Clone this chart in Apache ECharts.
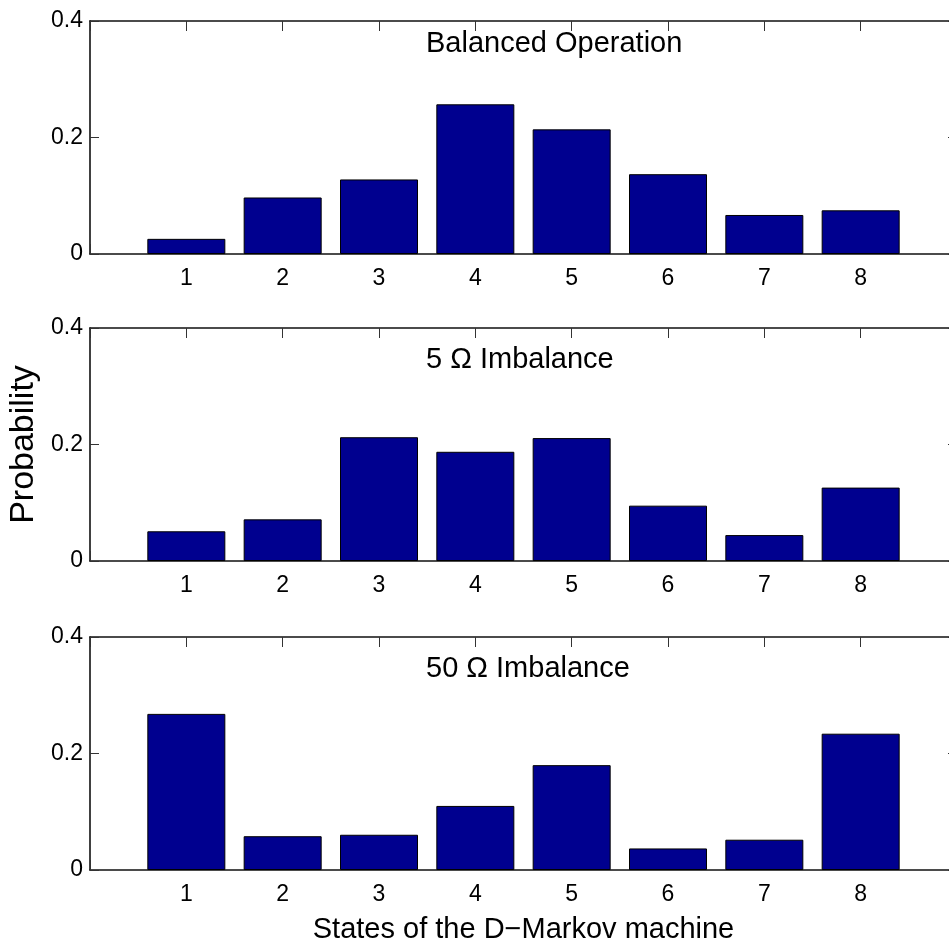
<!DOCTYPE html>
<html>
<head>
<meta charset="utf-8">
<script src="https://cdn.jsdelivr.net/npm/echarts@6/dist/echarts.min.js"></script>
<style>html,body{margin:0;padding:0;background:#fff;}#c{width:949px;height:947px;}</style>
</head>
<body>
<div id="c"></div>
<script>
// ---- data ----
const states = [1, 2, 3, 4, 5, 6, 7, 8];
const xTickLabels = ['1', '2', '3', '4', '5', '6', '7', '8'];
const yTickValues = [0, 0.2, 0.4];
const yTickLabels = ['0', '0.2', '0.4'];
const balanced = [0.026, 0.097, 0.128, 0.257, 0.214, 0.137, 0.067, 0.075];
const imbalance5 = [0.051, 0.0715, 0.2125, 0.1875, 0.211, 0.095, 0.0445, 0.126];
const imbalance50 = [0.268, 0.058, 0.0605, 0.110, 0.180, 0.037, 0.052, 0.234];
const panelTitles = ['Balanced Operation', '5 \u03A9 Imbalance', '50 \u03A9 Imbalance'];
const xAxisTitle = 'States of the D\u2212Markov machine';
const yAxisTitle = 'Probability';

// ---- layout / style ----
const FONT = "'Liberation Sans', Arial, Helvetica, sans-serif";
const panels = [balanced, imbalance5, imbalance50];
const gridTops = [21, 328, 637];
const titleTops = [29, 345, 654];
const gridH = 233;
const gridLeft = 90;
const gridW = 867;
const barColor = '#00008F';
const axisLineStyle = { color: '#111', width: 1.6 };
const tickStyle = { color: '#333', width: 1 };

function xFmt(v) {
  const i = states.indexOf(Math.round(v));
  return (i >= 0 && Math.abs(v - states[i]) < 1e-9) ? xTickLabels[i] : '';
}
function yFmt(v) {
  for (let i = 0; i < yTickValues.length; i++) {
    if (Math.abs(v - yTickValues[i]) < 1e-9) return yTickLabels[i];
  }
  return '';
}

const grid = [], xAxis = [], yAxis = [], series = [], title = [];
panels.forEach((vals, p) => {
  grid.push({ left: gridLeft, top: gridTops[p], width: gridW, height: gridH, containLabel: false, outerBoundsMode: 'none' });
  // bottom x axis
  xAxis.push({
    type: 'value', gridIndex: p, position: 'bottom', min: 0, max: 9, interval: 1,
    axisLine: { show: true, onZero: false, lineStyle: axisLineStyle },
    axisTick: { show: true, inside: true, length: 10, lineStyle: tickStyle },
    axisLabel: { show: true, formatter: xFmt, color: '#000', fontFamily: FONT, fontSize: 23, margin: 13 },
    splitLine: { show: false },
    name: p === 2 ? xAxisTitle : '',
    nameLocation: 'middle', nameGap: 45,
    nameTextStyle: { color: '#000', fontFamily: FONT, fontSize: 29 }
  });
  // top x axis
  xAxis.push({
    type: 'value', gridIndex: p, position: 'top', min: 0, max: 9, interval: 1,
    axisLine: { show: true, onZero: false, lineStyle: axisLineStyle },
    axisTick: { show: true, inside: true, length: 10, lineStyle: tickStyle },
    axisLabel: { show: false },
    splitLine: { show: false }
  });
  // left y axis
  yAxis.push({
    type: 'value', gridIndex: p, position: 'left', min: 0, max: 0.4, interval: 0.2,
    axisLine: { show: true, onZero: false, lineStyle: axisLineStyle },
    axisTick: { show: true, inside: true, length: 9, lineStyle: tickStyle },
    axisLabel: { show: true, formatter: yFmt, color: '#000', fontFamily: FONT, fontSize: 23, margin: 7 },
    splitLine: { show: false },
    name: p === 1 ? yAxisTitle : '',
    nameLocation: 'middle', nameGap: 46,
    nameTextStyle: { color: '#000', fontFamily: FONT, fontSize: 34 }
  });
  // right y axis
  yAxis.push({
    type: 'value', gridIndex: p, position: 'right', min: 0, max: 0.4, interval: 0.2,
    axisLine: { show: true, onZero: false, lineStyle: axisLineStyle },
    axisTick: { show: true, inside: true, length: 9, lineStyle: tickStyle },
    axisLabel: { show: false },
    splitLine: { show: false }
  });
  series.push({
    type: 'bar',
    xAxisIndex: 2 * p, yAxisIndex: 2 * p,
    data: states.map((s, i) => [s, vals[i]]),
    barWidth: 78,
    itemStyle: { color: barColor, borderColor: '#000', borderWidth: 1 },
    silent: true,
    animation: false
  });
  title.push({
    text: panelTitles[p], left: 426, top: titleTops[p], padding: 0,
    textStyle: { color: '#000', fontFamily: FONT, fontSize: 29, fontWeight: 'normal' }
  });
});

const chart = echarts.init(document.getElementById('c'), null, { renderer: 'canvas' });
chart.setOption({
  backgroundColor: '#fff',
  animation: false,
  title, grid, xAxis, yAxis, series
});
</script>
</body>
</html>
